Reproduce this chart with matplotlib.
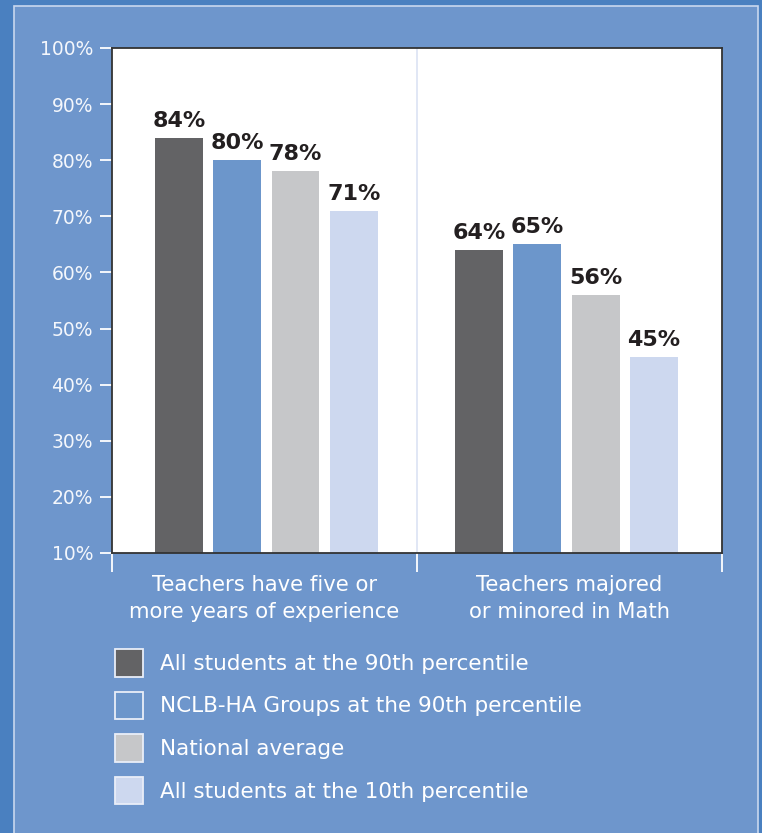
import numpy as np
import matplotlib
matplotlib.use("Agg")
from matplotlib import pyplot as plt
from matplotlib.patches import Patch, Rectangle

# data
categories = ["Teachers have five or\nmore years of experience",
              "Teachers majored\nor minored in Math"]
series = ["All students at the 90th percentile",
          "NCLB-HA Groups at the 90th percentile",
          "National average",
          "All students at the 10th percentile"]
all_90th = [84, 64]
nclb_90th = [80, 65]
national = [78, 56]
all_10th = [71, 45]
yticks = [10, 20, 30, 40, 50, 60, 70, 80, 90, 100]

colors = ["#636365", "#6c96cb", "#c6c7c9", "#cdd8ef"]
panel = "#6e96cc"
outer = "#4a80c0"

plt.rcParams["font.family"] = ["DejaVu Sans"]

W, H = 762, 833
fig = plt.figure(figsize=(W / 100, H / 100), dpi=100, facecolor=outer)

# light-edged inner panel behind everything
fig.patches.append(Rectangle((14 / W, -0.01), (758 - 14) / W, 1 - 6 / H + 0.01,
                             transform=fig.transFigure, facecolor=panel,
                             edgecolor="#c9d7ee", linewidth=1.2, zorder=-10))

ax = fig.add_axes([112 / W, 1 - 553 / H, 610 / W, 505 / H])
ax.set_zorder(1)
ax.set_facecolor("white")

x = np.arange(len(categories))
group_shift = [0.006, -0.01]
width = 0.157
step = 0.191
for i, vals in enumerate([all_90th, nclb_90th, national, all_10th]):
    pos = x + np.array(group_shift) + (i - 1.5) * step
    ax.bar(pos, vals, width=width, bottom=0, color=colors[i], zorder=2)
    for p, v in zip(pos, vals):
        ax.annotate(f"{v}%", (p, v), xytext=(0, 5), textcoords="offset points",
                    ha="center", va="bottom", fontsize=16, fontweight="bold",
                    color="#231f20", zorder=3)

ax.set_xlim(-0.5, 1.5)
ax.set_ylim(10, 100)
ax.axvline(0.5, color="#dbe3f3", linewidth=1.2, zorder=1)

ax.set_yticks(yticks)
ax.set_yticklabels([f"{t}%" for t in yticks])
ax.tick_params(axis="y", colors="white", length=8.6, width=1.3, labelsize=13.5,
               pad=5, labelcolor="#f4f7fc")

ax.set_xticks(x)
ax.set_xticklabels(categories, color="white", fontsize=15.2, linespacing=1.4)
ax.tick_params(axis="x", length=0, pad=16)
ax.set_xticks([-0.5, 0.5, 1.5], minor=True)
ax.tick_params(axis="x", which="minor", colors="white", length=14, width=1.3)

for s in ax.spines.values():
    s.set_color("#333333")
    s.set_linewidth(1.3)

handles = [Patch(facecolor=c, edgecolor="#e9eef8", linewidth=1.3) for c in colors]
leg = fig.legend(handles, series, loc="upper left",
                 bbox_to_anchor=(115 / W, 1 - 649 / H), frameon=False,
                 fontsize=15.5, labelcolor="white", handlelength=1.30,
                 handleheight=1.59, handletextpad=0.8, labelspacing=0.70,
                 borderpad=0, borderaxespad=0)
leg.set_zorder(2)

fig.savefig("out.png", dpi=100, facecolor=outer)
